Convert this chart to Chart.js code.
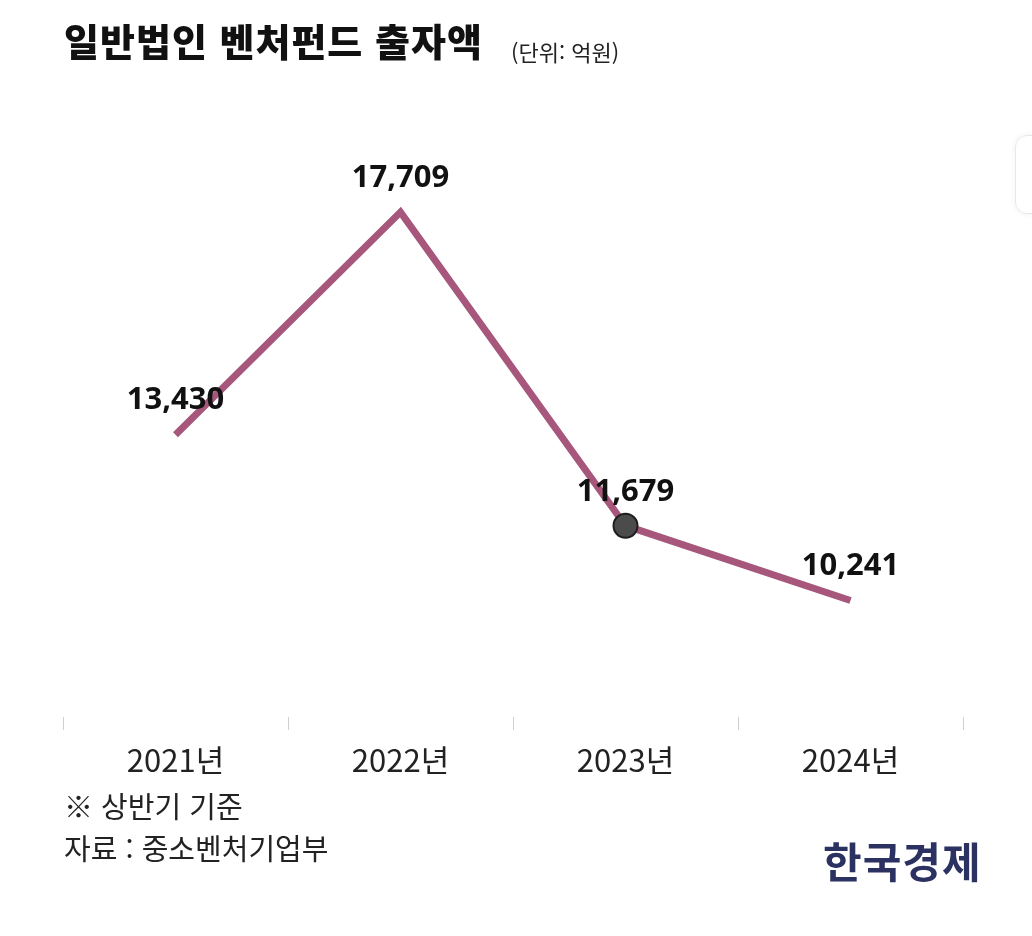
<!DOCTYPE html>
<html lang="ko">
<head>
<meta charset="utf-8">
<script src="https://cdn.jsdelivr.net/npm/chart.js@4"></script>
<style>
  html, body { margin: 0; padding: 0; background: #fff; }
  body { width: 1032px; height: 936px; position: relative; overflow: hidden; font-family: "Noto Sans CJK KR", sans-serif; }
  #chartBox { position: absolute; left: 0; top: 0; width: 1032px; height: 936px; }
  .title { position: absolute; left: 64px; top: 12px; font-size: 38px; font-weight: 900; color: #111; letter-spacing: 1px; }
  .unit { position: absolute; left: 511px; top: 35px; font-size: 22px; color: #222; }
  .note { position: absolute; left: 64px; font-size: 29px; color: #222; }
  .logo { position: absolute; left: 823px; top: 829px; font-size: 42px; font-weight: 700; color: #2b3160; letter-spacing: 1px; }
  .edge { position: absolute; left: 1015px; top: 135px; width: 40px; height: 77px; border: 1px solid #e8e8e8; border-radius: 12px; box-shadow: 0 0 6px rgba(0,0,0,0.06); }
</style>
</head>
<body>
<div id="chartBox"><canvas id="fundChart" width="1032" height="936"></canvas></div>
<div class="title">일반법인 벤처펀드 출자액</div>
<div class="unit">(단위: 억원)</div>
<div class="note" style="top:784px">※ 상반기 기준</div>
<div class="note" style="top:826px">자료 : 중소벤처기업부</div>
<div class="logo">한국경제</div>
<div class="edge"></div>
<script>
// 연도별 출자액 (억원)
const years = ['2021년', '2022년', '2023년', '2024년'];
const amounts = [13430, 17709, 11679, 10241];
const yMin = 8000;
const yMax = 20000;

// 값 라벨 플러그인
const valueLabels = {
    id: 'valueLabels',
    afterDatasetsDraw(chart) {
        const ctx = chart.ctx;
        const meta = chart.getDatasetMeta(0);
        ctx.save();
        ctx.font = 'bold 31px "Noto Sans", sans-serif';
        ctx.fillStyle = '#111';
        ctx.textAlign = 'center';
        ctx.textBaseline = 'middle';
        meta.data.forEach((pt, i) => {
            ctx.fillText(amounts[i].toLocaleString('en-US'), pt.x, pt.y - 34);
        });
        ctx.restore();
    }
};

const ctx = document.getElementById('fundChart').getContext('2d');
new Chart(ctx, {
    type: 'line',
    data: {
        labels: years,
        datasets: [{
            data: amounts,
            borderColor: '#a6577b',
            borderWidth: 7,
            borderCapStyle: 'butt',
            tension: 0,
            pointRadius: [0, 0, 12, 0],
            pointHoverRadius: 0,
            pointBackgroundColor: '#4b4b4b',
            pointBorderColor: '#1e1e1e',
            pointBorderWidth: 2
        }]
    },
    options: {
        responsive: false,
        animation: false,
        layout: { padding: { top: 93, left: 63, right: 69, bottom: 0 } },
        scales: {
            x: {
                offset: true,
                grid: { offset: true, drawOnChartArea: false, drawTicks: true, tickLength: 13, color: '#cfcfcf' },
                border: { display: false },
                ticks: {
                    padding: 12,
                    color: '#222',
                    font: { family: '"Noto Sans CJK KR", sans-serif', size: 31 }
                },
                afterFit(scale) { scale.height = 219; }
            },
            y: {
                display: false,
                min: yMin,
                max: yMax
            }
        },
        plugins: {
            legend: { display: false },
            tooltip: { enabled: false }
        }
    },
    plugins: [valueLabels]
});
</script>
</body>
</html>
